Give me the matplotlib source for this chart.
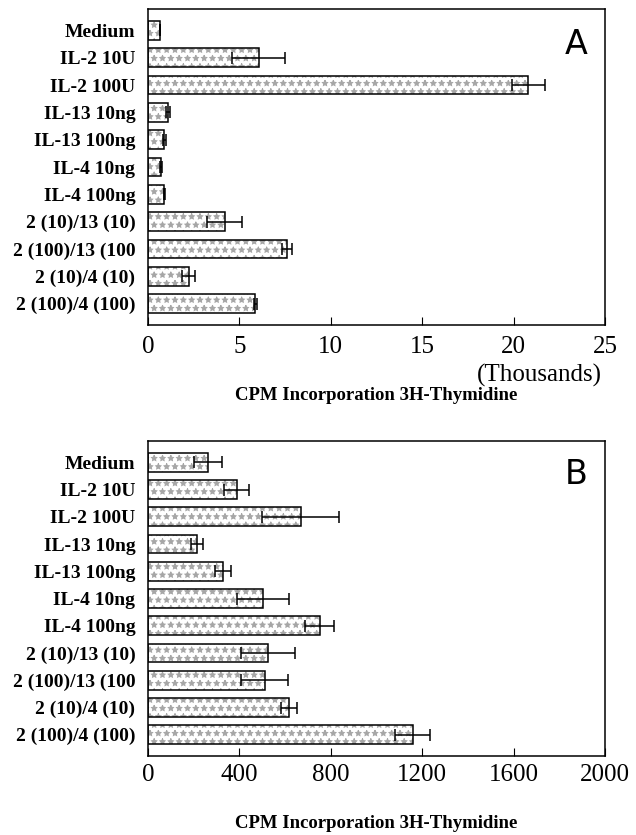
import matplotlib
matplotlib.use("Agg")
import matplotlib.pyplot as plt

etiquetas = ["Medium", "IL-2 10U", "IL-2 100U", "IL-13 10ng", "IL-13 100ng",
             "IL-4 10ng", "IL-4 100ng", "2 (10)/13 (10)", "2 (100)/13 (100",
             "2 (10)/4 (10)", "2 (100)/4 (100)"]

# panel A, miles de CPM
valores_a = [0.67, 6.05, 20.8, 1.1, 0.9, 0.71, 0.9, 4.2, 7.6, 2.23, 5.87]
errores_a = [0.0, 1.45, 0.9, 0.12, 0.06, 0.07, 0.03, 0.95, 0.28, 0.36, 0.08]

# panel B, CPM
valores_b = [264, 388, 668, 214, 329, 502, 752, 525, 511, 618, 1158]
errores_b = [62, 54, 169, 28, 34, 114, 64, 118, 103, 34, 76]

ticks_a = [0, 5, 10, 15, 20, 25]
ticks_b = [0, 400, 800, 1200, 1600, 2000]

plt.rcParams["font.family"] = ["Liberation Serif", "DejaVu Serif"]
plt.rcParams["hatch.linewidth"] = 0.7

fig = plt.figure(figsize=(6.36, 8.35), dpi=100)
ax_a = fig.add_axes([0.2327, 0.6108, 0.7186, 0.3784])
ax_b = fig.add_axes([0.2327, 0.0946, 0.7186, 0.3772])


def panel(ax, valores, errores, ticks, letra, pad, ly):
    y = list(range(len(etiquetas)))
    ax.barh(y, valores, height=0.69, color="white", hatch="**",
            edgecolor="#a6a6a6", linewidth=0)
    ax.barh(y, valores, height=0.69, fill=False, edgecolor="black",
            linewidth=1.1)
    ax.errorbar(valores, y, xerr=errores, fmt="none", ecolor="black",
                elinewidth=1.1, capsize=4.5, capthick=1.1)
    ax.set_yticks(y)
    ax.set_yticklabels(etiquetas, fontsize=14, fontweight="bold")
    ax.set_ylim(len(etiquetas) - 0.22, -0.78)
    ax.set_xlim(ticks[0], ticks[-1])
    ax.set_xticks(ticks)
    ax.set_xticklabels([str(t) for t in ticks], fontsize=18)
    ax.tick_params(axis="x", direction="in", length=6, pad=pad)
    ax.tick_params(axis="y", length=0, pad=9)
    for s in ax.spines.values():
        s.set_linewidth(1.1)
    ax.text(0.962, ly, letra, transform=ax.transAxes, ha="right",
            va="center", fontsize=24, family="DejaVu Sans")


panel(ax_a, valores_a, errores_a, ticks_a, "A", 8, 0.889)
panel(ax_b, valores_b, errores_b, ticks_b, "B", 6, 0.895)

fig.text(602 / 636, 1 - 375 / 835, "(Thousands)", ha="right", va="center",
         fontsize=18)
xc = 0.2327 + 0.7186 / 2
fig.text(xc, 1 - 395 / 835, "CPM Incorporation 3H-Thymidine", ha="center",
         va="center", fontsize=13.5, fontweight="bold")
fig.text(xc, 1 - 824 / 835, "CPM Incorporation 3H-Thymidine", ha="center",
         va="center", fontsize=13.5, fontweight="bold")

fig.savefig("out.png", dpi=100)
